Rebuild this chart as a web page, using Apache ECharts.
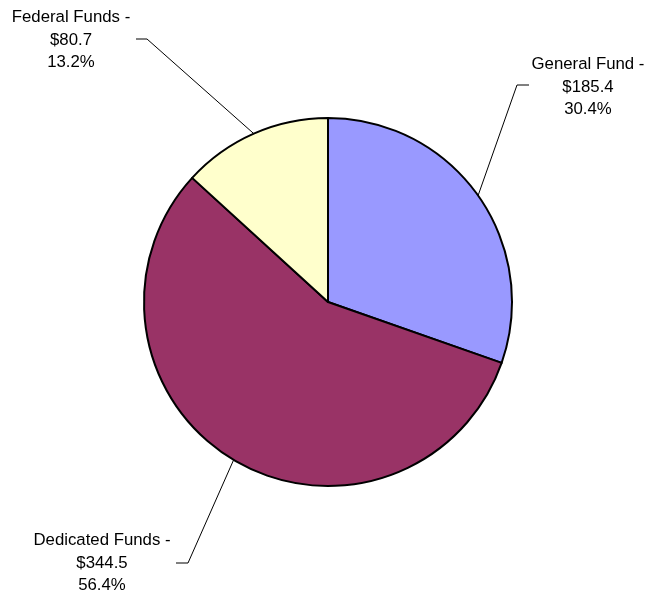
<!DOCTYPE html>
<html>
<head>
<meta charset="utf-8">
<script src="https://cdn.jsdelivr.net/npm/echarts@6/dist/echarts.min.js"></script>
<style>html,body{margin:0;padding:0;background:#fff;}#c{width:650px;height:596px;}</style>
</head>
<body>
<div id="c"></div>
<script>
var categories = ['General Fund', 'Dedicated Funds', 'Federal Funds'];
var values = [185.4, 344.5, 80.7];
var colors = ['#9999FF', '#993366', '#FFFFCC'];

// label layout (position of text block centre and leader elbow)
var labelPos = [
  {x: 588, y: 87, elbow: [517, 85], end: [529, 85]},
  {x: 102, y: 563, elbow: [188, 563], end: [176, 563]},
  {x: 71, y: 40, elbow: [147, 39], end: [136, 39]}
];

var chart = echarts.init(document.getElementById('c'), null, {renderer: 'canvas'});
chart.setOption({
  animation: false,
  backgroundColor: '#fff',
  series: [{
    type: 'pie',
    center: [328, 302],
    radius: [0, 184],
    startAngle: 90,
    clockwise: true,
    percentPrecision: 1,
    data: categories.map(function (n, i) {
      return {name: n, value: values[i], itemStyle: {color: colors[i]}};
    }),
    itemStyle: {borderColor: '#000', borderWidth: 2},
    emphasis: {disabled: true},
    label: {
      show: true,
      position: 'outside',
      fontFamily: 'Liberation Sans, Arial, sans-serif',
      fontSize: 16.8,
      lineHeight: 22.5,
      color: '#000',
      align: 'center',
      formatter: function (p) {
        return p.name + ' -\n$' + p.value + '\n' + p.percent.toFixed(1) + '%';
      }
    },
    labelLine: {show: true, lineStyle: {color: '#000', width: 1}},
    labelLayout: function (params) {
      var lp = labelPos[params.dataIndex];
      var start = params.labelLinePoints ? params.labelLinePoints[0] : lp.elbow;
      return {
        x: lp.x,
        y: lp.y,
        align: 'center',
        verticalAlign: 'middle',
        labelLinePoints: [start, lp.elbow, lp.end]
      };
    }
  }]
});
</script>
</body>
</html>
